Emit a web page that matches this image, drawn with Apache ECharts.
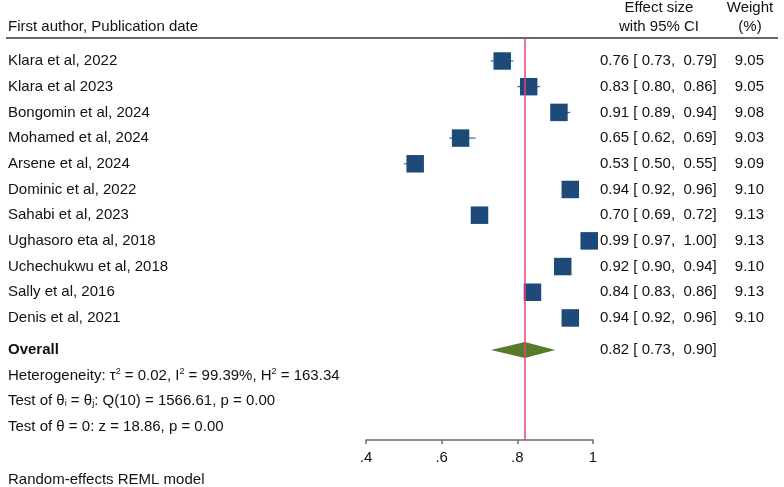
<!DOCTYPE html>
<html>
<head>
<meta charset="utf-8">
<script src="https://cdn.jsdelivr.net/npm/echarts@6/dist/echarts.min.js"></script>
<style>
  html, body { margin: 0; padding: 0; background: #fff; }
  #main { width: 784px; height: 487px; }
</style>
</head>
<body>
<div id="main"></div>
<script>
// study data
var authors = [
    'Klara et al, 2022', 'Klara et al 2023', 'Bongomin et al, 2024', 'Mohamed et al, 2024',
    'Arsene et al, 2024', 'Dominic et al, 2022', 'Sahabi et al, 2023', 'Ughasoro eta al, 2018',
    'Uchechukwu et al, 2018', 'Sally et al, 2016', 'Denis et al, 2021'
];
var effect = [0.76, 0.83, 0.91, 0.65, 0.53, 0.94, 0.70, 0.99, 0.92, 0.84, 0.94];
var ciLow  = [0.73, 0.80, 0.89, 0.62, 0.50, 0.92, 0.69, 0.97, 0.90, 0.83, 0.92];
var ciHigh = [0.79, 0.86, 0.94, 0.69, 0.55, 0.96, 0.72, 1.00, 0.94, 0.86, 0.96];
var weights = [9.05, 9.05, 9.08, 9.03, 9.09, 9.10, 9.13, 9.13, 9.10, 9.13, 9.10];

var overall = [0.82, 0.73, 0.90];   // effect, low, high
var overallRow = 11.25;
var xTicks = [0.4, 0.6, 0.8, 1];

var FONT = '"Liberation Sans", Arial, sans-serif';
var TXT = '#111';

function ciText(es, lo, hi) {
    return es.toFixed(2) + ' [ ' + lo.toFixed(2) + ',  ' + hi.toFixed(2) + ']';
}

var rows = authors.map(function (a, i) {
    return [effect[i], i, ciLow[i], ciHigh[i], weights[i]];
});

var chart = echarts.init(document.getElementById('main'), null, { renderer: 'canvas' });

chart.setOption({
    backgroundColor: '#fff',
    animation: false,
    textStyle: { fontFamily: FONT },
    grid: { left: 366, right: 191, top: 38, bottom: 47 },
    xAxis: {
        type: 'value',
        min: xTicks[0],
        max: xTicks[xTicks.length - 1],
        interval: 0.2,
        splitLine: { show: false },
        axisLine: { show: true, onZero: false, lineStyle: { color: '#6b6b6b', width: 1.5 } },
        axisTick: { show: true, length: 4, lineStyle: { color: '#6b6b6b', width: 1.5 } },
        axisLabel: {
            color: TXT, fontSize: 15, fontFamily: FONT, margin: 10,
            formatter: function (v) { return v === 1 ? '1' : String(+v.toFixed(1)).replace('0.', '.'); }
        }
    },
    yAxis: {
        type: 'value',
        inverse: true,
        min: -0.895,
        max: 14.75,
        show: false
    },
    graphic: [
        { type: 'line', shape: { x1: 6, y1: 38, x2: 778, y2: 38 }, style: { stroke: '#333', lineWidth: 1.5 } },
        { type: 'text', x: 8, y: 27, style: { text: 'First author, Publication date', font: '15px ' + FONT, fill: TXT, verticalAlign: 'middle' } },
        { type: 'text', x: 659, y: 8, style: { text: 'Effect size', font: '15px ' + FONT, fill: TXT, align: 'center', verticalAlign: 'middle' } },
        { type: 'text', x: 659, y: 27, style: { text: 'with 95% CI', font: '15px ' + FONT, fill: TXT, align: 'center', verticalAlign: 'middle' } },
        { type: 'text', x: 750, y: 8, style: { text: 'Weight', font: '15px ' + FONT, fill: TXT, align: 'center', verticalAlign: 'middle' } },
        { type: 'text', x: 750, y: 27, style: { text: '(%)', font: '15px ' + FONT, fill: TXT, align: 'center', verticalAlign: 'middle' } },
        {
            type: 'text', x: 8, y: 376,
            style: {
                text: 'Heterogeneity: τ{s|2} = 0.02, I{s|2} = 99.39%, H{s|2} = 163.34',
                font: '15px ' + FONT, fill: TXT, verticalAlign: 'middle', lineHeight: 18,
                rich: { s: { fontSize: 9, lineHeight: 9, verticalAlign: 'top', fontFamily: FONT } }
            }
        },
        {
            type: 'text', x: 8, y: 401,
            style: {
                text: 'Test of θ{b|i} = θ{b|j}: Q(10) = 1566.61, p = 0.00',
                font: '15px ' + FONT, fill: TXT, verticalAlign: 'middle', lineHeight: 18,
                rich: { b: { fontSize: 9, lineHeight: 9, verticalAlign: 'bottom', padding: [0, 0, 2, 0], fontFamily: FONT } }
            }
        },
        { type: 'text', x: 8, y: 426.5, style: { text: 'Test of θ = 0: z = 18.86, p = 0.00', font: '15px ' + FONT, fill: TXT, verticalAlign: 'middle' } },
        { type: 'text', x: 8, y: 480, style: { text: 'Random-effects REML model', font: '15px ' + FONT, fill: TXT, verticalAlign: 'middle' } }
    ],
    series: [
        {
            type: 'custom',
            data: rows,
            clip: false,
            renderItem: function (params, api) {
                var es = api.value(0), r = api.value(1), lo = api.value(2), hi = api.value(3), w = api.value(4);
                var c = api.coord([es, r]);
                var pl = api.coord([lo, r]);
                var ph = api.coord([hi, r]);
                var side = 17.5 * Math.sqrt(w / 9.1);
                var i = params.dataIndex;
                return {
                    type: 'group',
                    children: [
                        { type: 'line', shape: { x1: pl[0], y1: c[1], x2: ph[0], y2: c[1] }, style: { stroke: '#1d4a78', lineWidth: 1 } },
                        { type: 'rect', shape: { x: c[0] - side / 2, y: c[1] - side / 2, width: side, height: side }, style: { fill: '#1d4a78' } },
                        { type: 'text', x: 8, y: c[1], style: { text: authors[i], font: '15px ' + FONT, fill: TXT, verticalAlign: 'middle' } },
                        { type: 'text', x: 600, y: c[1], style: { text: ciText(effect[i], ciLow[i], ciHigh[i]), font: '15px ' + FONT, fill: TXT, verticalAlign: 'middle' } },
                        { type: 'text', x: 764, y: c[1], style: { text: weights[i].toFixed(2), font: '15px ' + FONT, fill: TXT, align: 'right', verticalAlign: 'middle' } }
                    ]
                };
            },
            markLine: {
                silent: true,
                symbol: 'none',
                label: { show: false },
                lineStyle: { color: '#e8457a', width: 1.5, type: 'solid', opacity: 1 },
                data: [{ xAxis: overall[0] }]
            },
            z: 3
        },
        {
            type: 'custom',
            data: [[overall[0], overallRow, overall[1], overall[2]]],
            clip: false,
            renderItem: function (params, api) {
                var es = api.value(0), r = api.value(1), lo = api.value(2), hi = api.value(3);
                var c = api.coord([es, r]);
                var pl = api.coord([lo, r]);
                var ph = api.coord([hi, r]);
                var h = 8;
                return {
                    type: 'group',
                    children: [
                        { type: 'polygon', shape: { points: [[pl[0], c[1]], [c[0], c[1] - h], [ph[0], c[1]], [c[0], c[1] + h]] }, style: { fill: '#587a2b' } },
                        { type: 'text', x: 8, y: c[1], style: { text: 'Overall', font: 'bold 15px ' + FONT, fill: TXT, verticalAlign: 'middle' } },
                        { type: 'text', x: 600, y: c[1], style: { text: ciText(es, lo, hi), font: '15px ' + FONT, fill: TXT, verticalAlign: 'middle' } }
                    ]
                };
            },
            z: 4
        }
    ]
});
</script>
</body>
</html>
